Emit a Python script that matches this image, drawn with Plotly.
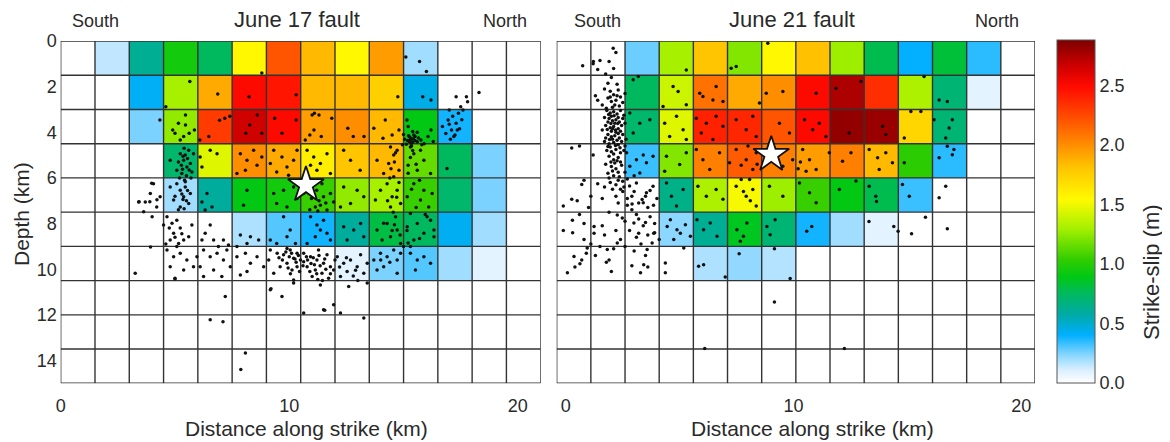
import plotly.graph_objects as go

# The page body adds an 8 px margin, so the figure is 8 px smaller and all
# reference pixel positions are shifted by that margin.
PAGE_MARGIN = 8
W, H = 1170 - PAGE_MARGIN, 442 - PAGE_MARGIN

# ---------------- data ----------------
CELL = 1.5  # km, cell size of slip grid
LEFT_X0 = 0.0
RIGHT_X0 = -0.4

slip_june17 = [
    [0, 0.15, 0.62, 0.95, 0.75, 1.55, 2.2, 1.85, 1.55, 1.95, 0.2, 0, 0, 0],
    [0, 0, 0.42, 1.3, 1.9, 2.5, 2.45, 1.85, 1.85, 1.75, 0.45, 0, 0, 0],
    [0, 0, 0.25, 1.25, 2.3, 2.65, 2.5, 1.95, 2.0, 1.85, 0.9, 0.38, 0, 0],
    [0, 0, 0, 0.72, 1.45, 2.0, 1.9, 1.6, 1.8, 1.85, 1.15, 0.75, 0.25, 0],
    [0, 0, 0, 0.2, 0.6, 0.9, 0.95, 1.05, 1.25, 1.3, 1.05, 0.72, 0.25, 0],
    [0, 0, 0, 0, 0, 0.18, 0.3, 0.38, 0.6, 0.8, 0.75, 0.43, 0.2, 0],
    [0, 0, 0, 0, 0, 0, 0, 0, 0.08, 0.25, 0.3, 0.2, 0.08, 0],
    [0] * 14,
    [0] * 14,
    [0] * 14,
]

slip_june21 = [
    [0, 0, 0.27, 1.3, 1.8, 1.22, 1.55, 1.82, 1.28, 0.78, 0.4, 0.82, 0.35, 0],
    [0, 0, 0.75, 1.4, 2.1, 1.9, 2.0, 2.5, 2.75, 2.35, 1.32, 0.7, 0.08, 0],
    [0, 0, 0.72, 1.45, 2.4, 2.38, 2.2, 2.5, 2.82, 2.8, 1.72, 0.7, 0, 0],
    [0, 0, 0.33, 1.22, 2.05, 2.18, 2.05, 1.95, 2.05, 1.85, 1.02, 0.35, 0, 0],
    [0, 0, 0, 0.65, 1.32, 1.52, 1.28, 1.05, 0.9, 0.78, 0.33, 0, 0, 0],
    [0, 0, 0, 0.23, 0.62, 0.87, 0.7, 0.38, 0.2, 0.08, 0, 0, 0, 0],
    [0, 0, 0, 0, 0.18, 0.22, 0.17, 0, 0, 0, 0, 0, 0, 0],
    [0] * 14,
    [0] * 14,
    [0] * 14,
]

# aftershocks (distance km, depth km)
june17_quakes = [
    (15.7,0.9),(16.0,1.34),(8.8,1.4),(15.1,0.7),
    (5.65,1.78),(6.87,2.32),(8.24,2.44),(10.3,2.36),(14.75,2.44),(15.84,2.44),(16.2,2.58),(17.3,2.44),
    (17.75,2.44),(18.3,2.26),(17.8,2.66),(4.6,2.88),(11.1,3.17),
    (4.9,3.9),(5.15,3.6),(5.46,3.24),(5.38,4.19),(5.62,4.04),(5.23,4.34),(5.0,4.04),(5.46,3.68),(5.85,3.9),(4.34,3.46),
    (7.18,3.39),(6.48,4.19),(6.09,4.34),(6.95,3.47),
    (7.4,3.3),(8.27,3.68),(8.1,4.04),(8.8,4.04),(8.6,3.24),
    (9.68,4.04),(9.36,3.39),(10.3,3.46),
    (11.0,3.24),(11.3,3.24),(11.86,3.39),(11.08,3.9),(11.4,4.19),(10.7,4.34),(10.9,4.12),
    (12.8,4.19),(12.56,3.82),(13.27,4.19),
    (13.7,3.82),(14.2,3.46),(14.5,4.12),(14.8,3.9),(14.1,4.26),
    (15.3,4.34),(15.35,4.3),(15.25,4.4),(15.4,4.45),(15.15,3.46),(15.4,3.97),(15.5,4.19),(15.76,4.34),(16.07,4.19),
    (16.2,3.9),(15.2,3.75),(16.3,4.4),(15.6,4.0),(15.9,4.5),
    (15.28,4.22),(15.42,4.28),(15.33,4.48),(15.18,4.36),(15.5,4.36),(15.22,4.15),(15.45,4.12),(15.6,4.42),
    (15.12,4.52),(15.35,4.6),(15.05,4.3),(15.65,4.25),(15.0,4.1),(15.8,4.55),(14.95,4.55),
    (16.7,3.75),(16.95,3.46),(17.1,3.9),(17.25,4.12),(17.4,3.17),(17.5,2.88),(17.6,3.02),(17.2,4.19),(17.3,3.6),(17.0,3.02),
    (17.05,4.3),(17.45,3.85),(17.15,3.3),(17.35,3.9),(16.85,4.05),(17.55,3.45),(17.0,3.65),
    (5.23,4.94),(5.38,5.23),(5.52,5.52),(5.3,5.81),(5.6,4.79),(5.45,5.0),(5.67,5.37),(5.08,5.66),(5.74,5.74),(4.79,5.23),
    (5.81,4.94),(5.35,5.05),(5.5,5.9),(5.2,6.0),(5.4,4.7),(5.55,5.15),(5.28,5.45),(5.62,5.65),(5.42,6.1),
    (5.15,5.3),(5.7,6.0),(5.33,5.62),
    (5.23,6.54),(5.38,6.83),(5.08,6.25),(5.45,6.4),(5.6,7.12),(5.23,7.27),(4.94,6.97),(5.67,6.68),(5.45,6.17),(4.79,6.4),
    (5.3,6.7),(5.5,7.0),(5.15,7.4),(5.35,6.95),(5.55,6.55),(5.0,6.8),(5.4,7.35),
    (4.06,6.25),(3.92,6.68),(3.7,7.05),(3.41,7.05),(3.63,7.48),(4.0,7.7),(4.2,7.27),(4.35,6.83),
    (3.9,7.04),(3.43,7.04),(3.98,6.23),(4.21,6.96),
    (6.1,5.08),(6.54,4.79),(6.84,4.94),(6.18,5.52),
    (6.4,6.68),(6.18,7.05),(6.62,7.27),(6.32,7.41),
    (7.86,4.94),(8.15,5.23),(8.44,4.79),(8.08,5.66),(8.59,5.45),(7.71,5.81),(8.8,5.08),
    (8.15,6.54),(8.0,7.2),
    (9.32,4.79),(9.68,5.08),(9.9,5.52),(9.45,5.74),(10.19,5.23),(10.34,4.79),(9.17,5.37),(9.97,5.88),
    (9.32,6.68),(9.75,6.54),(10.19,6.4),(10.34,6.9),(9.9,7.27),(9.45,7.12),
    (10.78,4.79),(11.07,5.08),(11.36,5.37),(11.65,4.94),(11.21,5.66),(11.8,5.81),(10.93,5.45),
    (11.2,6.54),(11.5,6.83),(10.97,6.9),(11.8,6.68),(11.36,7.2),(11.65,7.41),(10.63,6.68),(11.94,7.05),(11.43,6.25),
    (11.14,7.27),(11.3,7.0),(10.9,7.4),(11.1,6.75),(11.6,7.1),(11.25,7.45),
    (12.38,4.79),(12.68,5.23),(13.1,5.66),
    (12.38,6.4),(12.97,6.54),(12.68,7.12),(13.26,6.83),(12.24,7.27),
    (14.43,4.65),(14.57,5.0),(14.72,4.79),(14.35,5.37),(14.8,5.66),(14.57,5.95),(14.28,6.25),(14.72,6.54),(14.5,6.83),
    (14.87,7.12),(14.43,7.27),(14.65,7.7),(14.13,7.99),(14.72,8.28),(14.43,8.58),(14.87,8.87),(13.77,6.97),(13.99,6.54),
    (13.84,5.23),(14.13,5.81),(14.6,5.3),(14.4,6.0),(14.8,6.2),(14.55,7.5),(14.65,4.9),(14.45,5.6),(14.7,6.85),
    (14.3,7.0),(14.6,8.05),(14.85,8.5),(14.5,8.3),
    (15.3,4.65),(15.45,4.94),(15.74,4.79),(15.89,5.23),(15.6,5.66),(16.18,5.81),(15.45,6.25),(15.89,6.54),(15.74,6.97),
    (16.1,7.27),(15.3,7.56),(15.6,8.0),(16.18,7.85),(15.89,8.43),(15.45,8.72),(16.33,8.28),(15.16,6.83),(16.25,6.68),
    (15.3,5.1),(15.55,5.4),(15.2,5.8),(15.7,6.1),(15.95,7.6),(16.9,5.59),(15.4,4.8),(15.2,5.45),(15.35,6.5),
    (15.55,7.3),(15.15,8.3),(15.7,8.65),(15.0,9.0),(15.2,8.85),
    (4.65,7.7),(4.87,7.99),(5.08,7.85),(5.23,8.2),(4.94,8.43),(5.38,8.72),(4.79,8.72),(4.5,8.06),(5.16,8.87),(5.6,8.58),
    (5.74,8.06),(4.75,8.2),(5.0,8.6),(5.3,8.45),(4.6,8.9),
    (6.54,8.06),(6.32,8.43),(6.18,8.72),(6.69,8.72),(7.12,8.72),(7.34,8.94),(6.9,9.01),
    (7.86,8.5),(8.3,8.58),(8.66,8.72),(8.15,8.87),(7.71,9.01),
    (9.75,7.7),(9.17,8.72),(9.45,8.87),(10.04,8.28),(10.27,8.87),(9.9,8.58),
    (10.93,7.7),(11.21,8.06),(11.5,7.85),(11.65,8.43),(11.14,8.58),(11.8,8.72),(10.78,8.87),(11.36,8.28),
    (12.38,8.14),(12.82,8.28),(13.12,8.0),(12.53,8.72),(13.26,8.58),
    (13.84,8.28),(14.06,8.72),(14.28,8.0),
    (15.16,8.14),(16.03,7.7),(16.33,8.58),
    (4.65,9.16),(4.94,9.45),(5.23,9.3),(5.52,9.6),(5.81,9.89),(4.79,9.89),(5.38,10.03),(5.96,9.45),(5.08,9.01),(5.0,10.4),
    (6.25,9.16),(6.54,9.45),(6.84,9.3),(7.12,9.6),(6.1,9.89),(6.69,10.03),(7.27,9.16),(7.42,9.89),(7.05,10.32),(6.25,10.32),
    (7.71,9.45),(8.08,9.3),(8.3,9.74),(7.86,10.25),(8.59,9.45),(8.88,9.89),(8.15,10.1),
    (9.17,9.16),(9.47,9.3),(9.75,9.37),(10.04,9.16),(10.34,9.3),(10.19,9.52),(10.49,9.6),(9.9,9.74),(9.6,9.89),(9.32,10.18),
    (10.12,10.03),(10.34,9.89),(9.1,9.6),(10.19,10.47),(9.9,9.09),(10.0,9.45),(10.3,9.7),(9.7,9.6),(10.45,10.1),
    (9.85,9.25),(10.1,9.3),(10.25,9.55),(10.4,9.4),(9.95,9.95),(10.05,10.2),(9.55,9.5),(10.6,9.85),
    (10.63,9.3),(10.93,9.45),(11.21,9.6),(11.5,9.74),(11.8,9.89),(10.78,9.89),(11.14,10.03),(11.43,10.18),(11.0,10.32),
    (11.65,9.37),(11.94,10.03),(10.63,9.67),(11.28,9.16),(11.72,10.4),(11.36,10.69),(10.8,9.6),(11.1,9.8),(11.3,9.4),
    (11.6,10.0),(10.9,10.1),(11.25,10.45),(10.75,9.45),(11.05,9.5),(11.35,9.85),(11.55,9.55),(11.2,10.2),(10.95,9.75),
    (11.45,10.5),(11.8,10.2),(12.0,9.6),
    (12.1,9.45),(12.38,9.74),(12.68,9.6),(12.97,9.89),(13.26,10.18),(12.53,10.1),(13.12,9.37),(13.41,9.74),(12.24,10.32),
    (12.6,10.76),(13.41,10.61),(12.2,9.9),(12.8,10.3),(12.5,9.5),(12.9,10.05),(13.0,10.5),
    (13.7,9.6),(13.99,9.3),(14.28,9.45),(14.57,9.16),(13.84,10.03),(14.13,9.89),(14.72,9.6),(14.87,9.3),(14.72,10.18),
    (14.4,9.7),(14.0,9.6),
    (15.3,9.3),(15.6,9.6),(15.89,9.45),(15.52,10.03),(16.18,9.74),(15.3,9.01),
    (9.17,10.9),(9.68,11.2),(10.19,10.61),(7.2,11.2),(11.94,11.56),(10.63,11.92),(11.5,11.78),(12.24,11.92),(13.26,12.14),
    (6.54,12.22),(7.1,12.3),(8.08,13.67),(7.88,14.4),(3.26,10.18),(3.93,9.03),(5.0,10.43),(9.2,10.86),(11.55,11.8),
]

june21_quakes = [
    (1.9,0.9),(2.1,1.2),(1.2,1.0),(1.5,0.85),(2.2,0.5),(1.4,1.25),(2.0,1.6),(1.75,1.45),(1.85,1.85),(2.25,1.9),
    (1.7,2.1),(1.95,2.2),(2.1,2.35),(2.3,2.15),(1.85,2.5),(2.0,2.65),(2.2,2.6),(2.4,2.45),(1.6,2.8),(2.05,2.9),
    (2.35,2.85),(1.3,2.4),(1.4,2.6),(2.6,2.3),
    (1.8,3.05),(1.95,3.15),(2.1,3.1),(2.25,3.2),(2.4,3.05),(1.7,3.35),(1.9,3.4),(2.05,3.5),(2.2,3.45),(2.35,3.55),
    (2.5,3.4),(1.75,3.7),(1.95,3.8),(2.1,3.75),(2.3,3.85),(2.45,3.7),(2.6,3.6),(1.6,3.9),(2.0,3.95),(2.2,4.0),
    (2.0,3.3),(2.15,3.6),(1.85,3.55),(2.3,3.35),(2.05,3.85),
    (1.88,3.22),(2.12,3.28),(2.28,3.62),(1.98,3.62),(2.18,3.9),(1.82,3.88),(2.4,3.95),(2.55,3.25),(1.78,2.95),
    (2.15,2.8),(1.95,2.45),(2.25,2.4),(2.5,2.7),
    (1.85,4.1),(2.0,4.2),(2.15,4.15),(2.35,4.25),(2.5,4.1),(1.7,4.4),(1.9,4.5),(2.1,4.45),(2.3,4.55),(2.45,4.4),
    (2.6,4.6),(1.8,4.8),(2.0,4.85),(2.2,4.75),(2.4,4.9),(1.95,4.65),(2.55,4.8),(2.05,4.3),(2.25,4.35),
    (1.92,4.32),(2.18,4.58),(2.38,4.68),(1.85,4.62),(2.1,4.95),(2.3,4.05),(2.65,4.3),(1.75,4.25),
    (1.9,5.05),(2.1,5.2),(2.3,5.1),(1.75,5.4),(2.0,5.5),(2.2,5.6),(2.45,5.45),(1.85,5.8),(2.1,5.9),(2.35,5.95),
    (2.6,5.75),(1.95,6.2),(2.2,6.3),(2.5,6.15),(1.7,6.4),(2.8,6.35),(2.4,6.5),(2.15,5.35),(2.3,5.75),
    (1.98,5.3),(2.25,5.25),(2.05,5.7),(2.4,5.3),(1.9,6.0),(2.3,6.1),(2.7,6.05),(2.55,6.4),(2.05,6.5),
    (0.6,4.6),(1.2,5.0),(0.8,6.1),(1.4,6.25),(1.1,6.8),(0.5,7.0),(1.6,6.9),(2.7,6.9),(3.0,6.6),(3.2,7.1),(3.5,6.8),
    (2.3,7.1),(2.9,7.4),(3.6,7.3),(1.9,7.5),(3.2,7.8),(3.7,7.7),(2.6,7.9),(3.4,8.1),(3.9,8.0),(2.8,8.3),(3.1,8.6),
    (3.6,8.5),(3.3,8.9),(2.4,8.7),(1.7,8.5),(0.8,8.0),(0.3,8.4),(1.1,8.9),(0.9,9.3),(1.5,9.0),(1.3,9.4),(2.1,9.1),
    (2.6,9.0),(3.0,9.2),(3.5,9.4),(0.4,9.9),(0.7,9.6),(1.9,9.6),(2.9,9.85),(3.6,9.9),(2.0,10.1),(1.6,8.1),(2.2,8.3),
    (0.6,7.6),(1.0,7.3),(2.5,6.6),(3.85,7.2),(3.9,8.4),(4.1,8.7),(2.9,6.8),(3.1,7.6),(3.5,7.95),(2.7,7.2),
    (3.35,6.95),(3.7,6.55),(2.2,6.8),
    (-0.11,8.3),(0.29,7.86),(0.07,10.16),(0.36,9.44),(0.62,9.76),(0.8,8.7),(0.94,9.07),(1.24,8.42),(1.24,8.13),
    (1.78,9.7),(1.82,9.14),(2.26,8.85),(2.48,7.76),(2.26,7.62),(2.91,7.14),(2.99,7.98),(3.2,8.42),(3.28,10.16),
    (3.42,9.8),(3.57,9.14),(3.79,8.85),(3.86,8.42),(4.37,9.73),(4.37,10.16),(5.18,9.07),(4.74,8.7),(5.03,8.42),
    (4.45,8.13),(5.83,9.87),(6.05,9.8),(7.0,10.34),(7.61,9.32),(9.16,9.1),(9.85,10.41),(9.16,11.44),(6.1,13.47),
    (12.23,13.47),(13.31,7.91),(14.4,8.13),(14.59,8.34),(15.18,8.45),(15.79,7.72),(16.75,8.23),(13.64,7.03),
    (4.59,7.83),(4.88,8.27),(5.25,8.05),(5.47,8.56),(5.76,7.83),(6.05,8.27),(6.34,7.98),(6.64,8.56),(7.51,8.27),
    (7.8,8.56),(7.95,7.98),(8.97,8.49),(9.19,7.83),(8.83,8.13),(7.66,8.78),(10.58,8.34),(10.8,8.13),
    (2.08,0.32),(1.21,0.9),(0.74,1.09),(7.26,1.19),(7.48,1.12),(8.87,0.1),(5.29,1.27),
    (2.96,1.7),(3.18,1.56),(4.71,1.99),(4.93,2.21),(5.29,2.79),(5.88,2.29),(6.02,2.43),(6.46,2.58),(6.9,2.65),
    (6.6,1.99),(8.5,2.72),(8.8,2.29),(9.53,2.21),(10.99,2.29),(11.86,2.07),(12.96,1.78),(15.73,1.56),(16.39,2.58),
    (16.75,2.65),(4.27,2.87),
    (2.81,3.16),(3.25,3.6),(2.96,4.03),(3.69,3.45),(4.34,3.6),(4.86,3.3),(5.15,3.89),(4.56,4.18),(5.29,4.32),
    (5.73,3.38),(6.17,3.6),(5.95,4.03),(6.6,3.3),(6.9,3.74),(6.46,4.32),(7.48,3.45),(7.92,3.89),(8.21,3.3),(8.36,4.18),
    (9.38,3.6),(9.82,4.03),(10.48,3.45),(10.84,3.89),(11.13,3.6),(11.42,4.18),(12.44,4.03),(13.91,3.74),(14.05,4.1),
    (14.86,4.25),(15.15,3.09),(15.59,3.09),(16.17,3.45),(16.83,3.81),(16.97,3.45),(16.68,4.25),
    (2.67,4.9),(3.1,5.2),(2.81,5.49),(3.54,5.34),(3.83,5.05),(3.25,5.78),(4.42,5.05),(5.0,5.41),(4.34,5.71),(5.29,4.9),
    (5.73,4.76),(6.02,5.2),(6.32,5.63),(6.75,4.9),(7.19,5.34),(7.48,4.76),(7.92,5.2),(8.21,5.63),(8.36,4.9),(9.53,5.49),
    (9.96,5.2),(10.4,4.76),(10.7,5.2),(10.99,5.63),(10.55,5.71),(11.57,4.9),(12.15,5.27),(12.52,4.9),(13.32,4.76),
    (13.69,5.12),(14.05,4.9),(14.34,5.34),(13.76,5.63),(14.86,5.34),(16.39,5.12),(16.97,4.98),(17.04,4.76),
    (16.75,4.61),(0.26,4.69),(3.4,5.0),(3.0,5.9),(8.0,4.6),(8.4,5.4),(10.2,5.6),(7.7,5.45),(10.3,5.3),
    (3.1,6.22),(3.54,6.65),(3.83,6.36),(3.4,7.09),(4.42,6.22),(4.64,6.8),(5.15,6.51),(4.86,7.23),(5.8,6.36),(6.17,6.8),
    (6.6,6.51),(6.9,6.94),(7.48,6.36),(7.92,6.8),(8.21,6.51),(8.36,7.23),(7.7,6.07),(8.07,6.07),(8.94,6.36),(9.53,6.8),
    (10.26,6.22),(10.7,6.65),(10.99,7.09),(12.01,6.51),(12.74,6.14),(13.32,6.36),(13.61,6.8),(14.78,6.29),(15.08,6.8),
    (16.68,6.36),(16.39,6.87),(0.7,6.29),(0.26,6.94),(-0.11,7.23),(7.8,6.6),(8.1,7.0),(4.0,6.9),
]

hypocentres = {"june17": (10.73, 6.31), "june21": (9.02, 4.98)}

x_ticks = [0, 10, 20]
depth_ticks = [0, 2, 4, 6, 8, 10, 12, 14]
cbar_ticks = [0.0, 0.5, 1.0, 1.5, 2.0, 2.5]
SLIP_MAX = 2.88

# ---------------- helpers ----------------
def px(x):
    return (x - PAGE_MARGIN) / W

def py(y):
    return 1 - (y - PAGE_MARGIN) / H

colorscale = [
    [0.0, "rgb(255,255,255)"],
    [0.04, "rgb(215,238,255)"],
    [0.08, "rgb(140,215,255)"],
    [0.14, "rgb(0,175,255)"],
    [0.20, "rgb(0,170,165)"],
    [0.26, "rgb(0,185,95)"],
    [0.31, "rgb(0,200,20)"],
    [0.36, "rgb(50,205,0)"],
    [0.45, "rgb(165,240,0)"],
    [0.535, "rgb(255,250,0)"],
    [0.63, "rgb(255,195,0)"],
    [0.69, "rgb(255,145,0)"],
    [0.77, "rgb(255,80,0)"],
    [0.865, "rgb(255,10,0)"],
    [0.93, "rgb(200,0,0)"],
    [1.0, "rgb(125,0,0)"],
]

FONT = "Liberation Sans, Arial, sans-serif"
TXT = "#2a2a2a"

fig = go.Figure()

panels = [
    ("x", "y", slip_june17, LEFT_X0, june17_quakes, hypocentres["june17"]),
    ("x2", "y2", slip_june21, RIGHT_X0, june21_quakes, hypocentres["june21"]),
]

for xa, ya, z, x0, quakes, hypo in panels:
    nrows, ncols = len(z), len(z[0])
    fig.add_trace(go.Heatmap(
        z=z, x0=x0 + CELL / 2, dx=CELL, y0=CELL / 2, dy=CELL,
        coloraxis="coloraxis", xaxis=xa, yaxis=ya, hoverinfo="skip",
    ))
    gx, gy = [], []
    xedges = [x0 + i * CELL for i in range(ncols + 1)]
    yedges = [j * CELL for j in range(nrows + 1)]
    for e in xedges:
        gx += [e, e, None]
        gy += [yedges[0], yedges[-1], None]
    for e in yedges:
        gx += [xedges[0], xedges[-1], None]
        gy += [e, e, None]
    fig.add_trace(go.Scatter(
        x=gx, y=gy, mode="lines", line=dict(color="#333333", width=1.4),
        xaxis=xa, yaxis=ya, hoverinfo="skip", showlegend=False,
    ))
    fig.add_trace(go.Scatter(
        x=[q[0] for q in quakes], y=[q[1] for q in quakes], mode="markers",
        marker=dict(color="#111111", size=3.5), xaxis=xa, yaxis=ya,
        hoverinfo="skip", showlegend=False,
    ))
    fig.add_trace(go.Scatter(
        x=[hypo[0]], y=[hypo[1]], mode="markers",
        marker=dict(symbol="star", size=27, color="white",
                    line=dict(color="#111111", width=1.8)),
        xaxis=xa, yaxis=ya, hoverinfo="skip", showlegend=False,
    ))

y_dom = [py(383.3), py(41)]
axis_common = dict(showgrid=False, zeroline=False, showline=False, ticks="",
                   automargin=False,
                   tickfont=dict(family=FONT, size=18, color=TXT))

fig.update_layout(
    width=W, height=H,
    margin=dict(l=0, r=0, t=0, b=0, autoexpand=False),
    paper_bgcolor="white", plot_bgcolor="white",
    showlegend=False,
    xaxis=dict(domain=[px(60.7), px(540.7)], range=[LEFT_X0, LEFT_X0 + 14 * CELL],
               tickvals=x_ticks, ticklabelstandoff=10, anchor="y", **axis_common),
    yaxis=dict(domain=y_dom, range=[15, 0], tickvals=depth_ticks,
               ticklabelstandoff=3, anchor="x", **axis_common),
    xaxis2=dict(domain=[px(556.7), px(1035)], range=[RIGHT_X0, RIGHT_X0 + 14 * CELL],
                tickvals=x_ticks, ticklabelstandoff=10, anchor="y2", **axis_common),
    yaxis2=dict(domain=y_dom, range=[15, 0], showticklabels=False,
                anchor="x2", **axis_common),
    coloraxis=dict(
        colorscale=colorscale, cmin=0, cmax=SLIP_MAX,
        colorbar=dict(
            x=px(1057), xanchor="left", y=py(40), yanchor="top",
            len=(383.3 - 40) / H, lenmode="fraction", ypad=0, xpad=0,
            thickness=38, thicknessmode="pixels",
            outlinecolor="#555555", outlinewidth=1,
            tickvals=cbar_ticks, tickformat=".1f", ticks="",
            tickfont=dict(family=FONT, size=18, color=TXT),
            ticklabelposition="outside",
        ),
    ),
)

annots = [
    ("South", 95, 21, 18, 0), ("June 17 fault", 297, 20, 22, 0), ("North", 505, 21, 18, 0),
    ("South", 597, 21, 18, 0), ("June 21 fault", 792, 20, 22, 0), ("North", 997, 21, 18, 0),
    ("Distance along strike (km)", 306, 428, 21, 0),
    ("Distance along strike (km)", 812, 428, 21, 0),
    ("Depth (km)", 21, 214, 21, -90),
    ("Strike-slip (m)", 1151, 272, 22, -90),
]
for text, ax, ay, size, ang in annots:
    fig.add_annotation(
        text=text, x=px(ax), y=py(ay), xref="paper", yref="paper",
        xanchor="center", yanchor="middle", showarrow=False, textangle=ang,
        font=dict(family=FONT, size=size, color=TXT),
    )

fig.write_html("out.html")
